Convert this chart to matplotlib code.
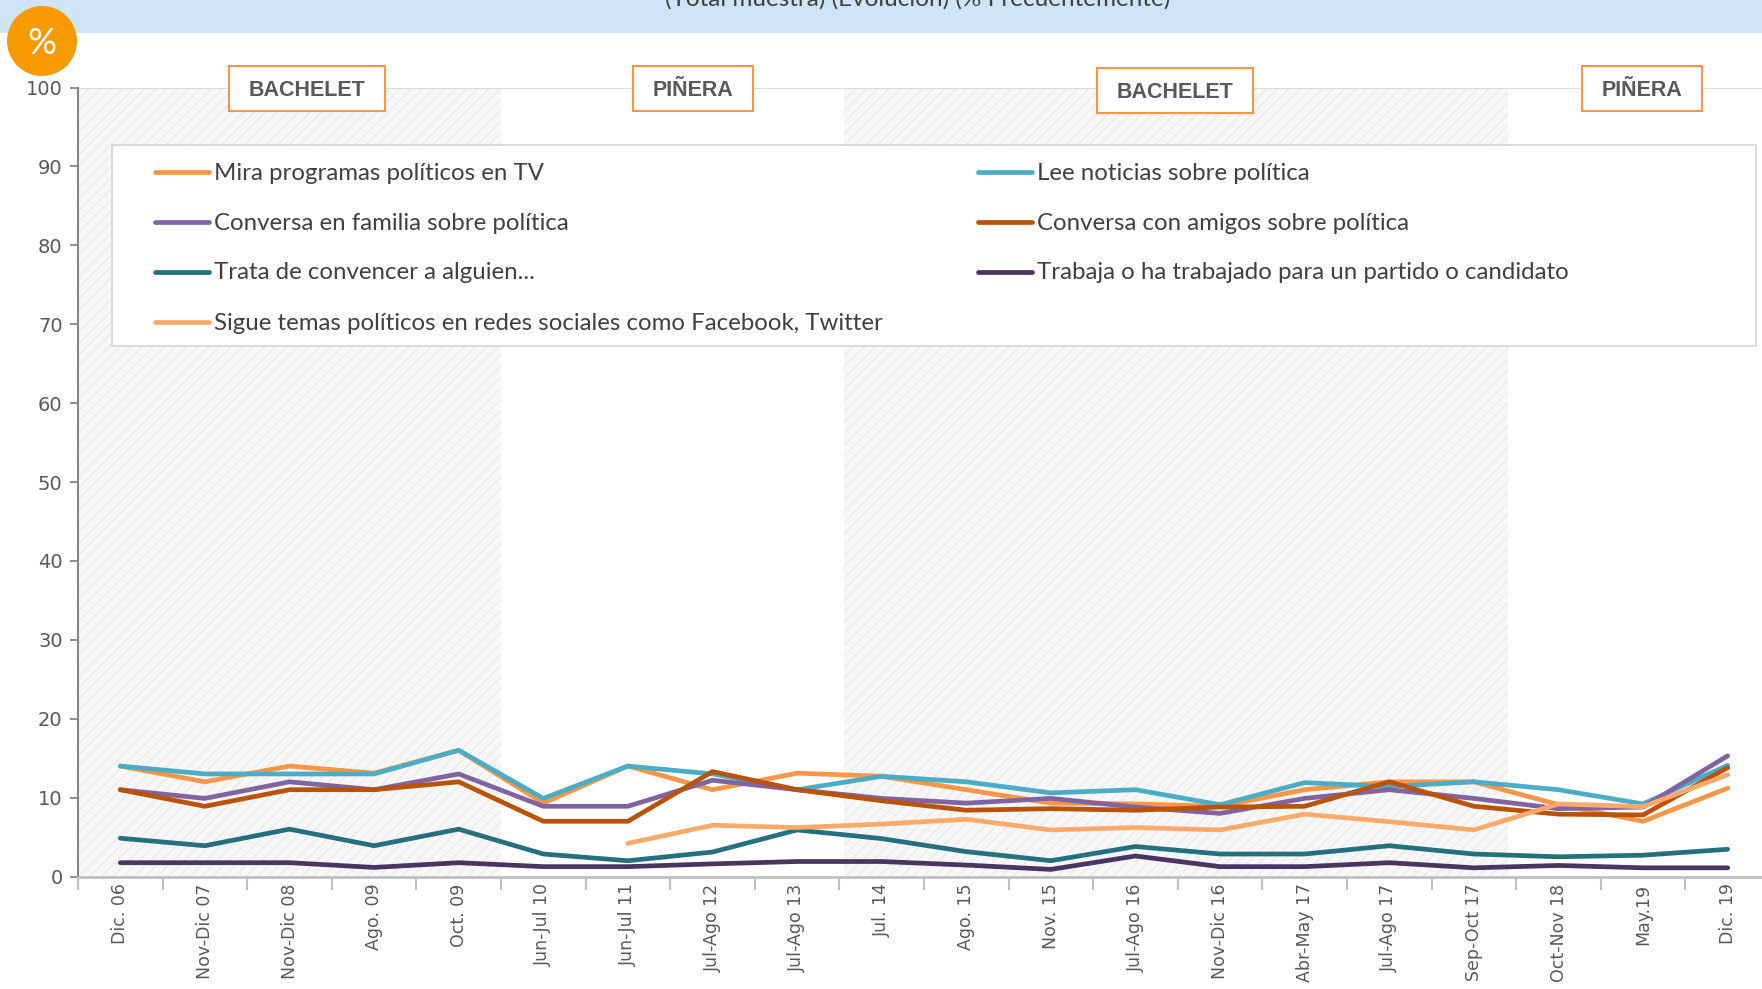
import numpy as np
import matplotlib.pyplot as plt
from matplotlib.patches import Rectangle, Ellipse
from matplotlib.lines import Line2D

# datos (% frecuentemente)
periodos = ["Dic. 06", "Nov-Dic 07", "Nov-Dic 08", "Ago. 09", "Oct. 09",
            "Jun-Jul 10", "Jun-Jul 11", "Jul-Ago 12", "Jul-Ago 13", "Jul. 14",
            "Ago. 15", "Nov. 15", "Jul-Ago 16", "Nov-Dic 16", "Abr-May 17",
            "Jul-Ago 17", "Sep-Oct 17", "Oct-Nov 18", "May.19", "Dic. 19"]

mira_tv = [14, 12, 14, 13.1, 16, 9.3, 14, 11, 13.1, 12.7,
           11, 9.3, 9.2, 8.9, 11, 12, 12, 9.1, 7, 11.2]
lee_noticias = [14, 13, 13, 13, 16, 9.9, 14, 13, 11, 12.7,
                12, 10.6, 11, 9.1, 11.9, 11.4, 12, 11, 9.2, 14.1]
familia = [11, 9.9, 12, 11, 13, 8.9, 8.9, 12.2, 11, 9.9,
           9.3, 9.9, 8.8, 8, 9.9, 11, 9.9, 8.6, 8.8, 15.3]
amigos = [11, 8.9, 11, 11, 12, 7, 7, 13.3, 11, 9.6,
          8.4, 8.6, 8.4, 8.8, 8.9, 12, 8.9, 7.9, 7.8, 13.8]
convencer = [4.85, 3.9, 6, 3.9, 6, 2.85, 2, 3.1, 5.9, 4.8,
             3.15, 2, 3.8, 2.85, 2.85, 3.9, 2.85, 2.5, 2.7, 3.45]
trabaja = [1.75, 1.75, 1.75, 1.15, 1.75, 1.25, 1.25, 1.6, 1.9, 1.9,
           1.45, 0.9, 2.6, 1.25, 1.25, 1.75, 1.1, 1.4, 1.1, 1.1]
redes = [np.nan, np.nan, np.nan, np.nan, np.nan, np.nan, 4.2, 6.5, 6.2, 6.65,
         7.25, 5.9, 6.2, 5.9, 7.9, 6.95, 5.9, 9.2, 8.85, 12.9]

etiquetas = ["Mira programas políticos en TV", "Lee noticias sobre política",
             "Conversa en familia sobre política", "Conversa con amigos sobre política",
             "Trata de convencer a alguien...", "Trabaja o ha trabajado para un partido o candidato",
             "Sigue temas políticos en redes sociales como Facebook, Twitter"]
colores = ["#F79646", "#4BACC6", "#8064A2", "#B95308", "#24707E", "#4A3461", "#FBAA6C"]

# gobiernos: (nombre, centro x en px, centro y en px)
gobiernos = [("BACHELET", 307, 88), ("PIÑERA", 693, 88), ("BACHELET", 1175, 90), ("PIÑERA", 1642, 88)]
periodos_bachelet = [(-0.5, 4.5), (8.55, 16.4)]

W, H = 1762, 989


def fx(px):
    return px / W


def fy(py):
    return 1 - py / H


fig = plt.figure(figsize=(W / 100, H / 100), dpi=100)
fig.patch.set_facecolor("white")

# banda superior
fig.patches.append(Rectangle((0, fy(33)), 1, 33 / H, transform=fig.transFigure,
                             facecolor="#CFE4F6", edgecolor="none", zorder=0))
fig.text(fx(918), fy(-1), "(Total muestra) (Evolución) (% Frecuentemente)",
         ha="center", va="center", fontsize=17.5, color="#404040", family="Lato")

ax = fig.add_axes([fx(78), fy(876.5), (1770 - 78) / W, (876.5 - 87.6) / H])
ax.set_facecolor("none")

plt.rcParams["hatch.linewidth"] = 1.0
for a, b in periodos_bachelet:
    ax.axvspan(a, b, ymin=0, ymax=1, facecolor="#F7F7F7", edgecolor="#EBEBEB",
               hatch="///", linewidth=0, zorder=0)

ax.axhline(100, color="#D9D9D9", lw=1.3, zorder=1)

x = np.arange(len(periodos))
todas = [mira_tv, lee_noticias, familia, amigos, convencer, trabaja, redes]
for vals, col, lab in zip(todas, colores, etiquetas):
    ax.plot(x, vals, color=col, lw=3.4, solid_capstyle="round",
            solid_joinstyle="round", label=lab, zorder=3)

ax.set_xlim(-0.5, len(periodos) - 0.5)
ax.set_ylim(0, 100)
ax.set_yticks(range(0, 101, 10))
ax.set_xticks(x)
ax.set_xticklabels(periodos, rotation=90, fontsize=12.5, color="#595959")
ax.set_xticks(np.arange(-0.5, len(periodos)), minor=True)
ax.tick_params(axis="x", which="major", length=0, pad=5)
ax.tick_params(axis="x", which="minor", length=9, width=1.5, color="#BFBFBF")
ax.tick_params(axis="y", length=6, width=1.3, color="#868686", labelsize=14,
               labelcolor="#595959", pad=5)
for s in ["top", "right"]:
    ax.spines[s].set_visible(False)
ax.spines["left"].set_color("#868686")
ax.spines["left"].set_linewidth(1.5)
ax.spines["bottom"].set_color("#BFBFBF")
ax.spines["bottom"].set_linewidth(2)

# leyenda a mano
fig.patches.append(Rectangle((fx(112), fy(346)), (1756 - 112) / W, (346 - 145) / H,
                             transform=fig.transFigure, facecolor="white",
                             edgecolor="#D9D9D9", lw=1.3, zorder=4))
orden = [0, 2, 4, 6, 1, 3, 5]
filas = [172, 222, 272, 322]
for k, i in enumerate(orden):
    col_x = 155 if k < 4 else 978
    yy = filas[k % 4]
    fig.add_artist(Line2D([fx(col_x), fx(col_x + 54)], [fy(yy), fy(yy)],
                          transform=fig.transFigure, color=colores[i], lw=3.4,
                          solid_capstyle="round", zorder=5))
    fig.text(fx(col_x + 59), fy(yy + 1), etiquetas[i], ha="left", va="center",
             fontsize=17.3, color="#404040", family="Lato", zorder=5)

# cajas de gobiernos
for nombre, cx, cy in gobiernos:
    bw = 156 if nombre == "BACHELET" else 120
    fig.patches.append(Rectangle((fx(cx - bw / 2), fy(cy + 22.5)), bw / W, 45 / H,
                                 transform=fig.transFigure, facecolor="white",
                                 edgecolor="#F79646", lw=1.5, zorder=6))
    fig.text(fx(cx), fy(cy + 2), nombre, ha="center", va="center", fontsize=15.5,
             fontweight="bold", color="#595959", family="Liberation Sans", zorder=7)

# circulo %
fig.patches.append(Ellipse((fx(42), fy(41)), 70 / W, 70 / H, transform=fig.transFigure,
                           facecolor="#F79A00", edgecolor="none", zorder=8))
fig.text(fx(42), fy(43), "%", ha="center", va="center", fontsize=26,
         color="white", family="Lato", zorder=9)

fig.savefig("out.png", dpi=100)
